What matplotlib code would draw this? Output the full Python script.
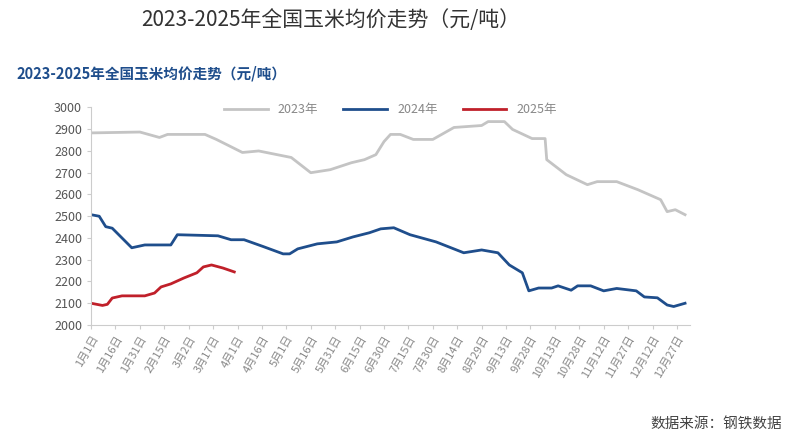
import matplotlib
matplotlib.use("Agg")
import matplotlib.pyplot as plt

plt.rcParams['font.family'] = ['Noto Sans CJK SC', 'DejaVu Sans']

d2023 = [0, 30, 42, 47, 70, 77, 93, 103, 123, 135, 147, 160, 168, 175, 180, 184, 190, 198, 210, 223, 240, 244, 254, 259, 271, 279, 280, 292, 305, 311, 323, 336, 350, 354, 359, 365]
v2023 = [2883, 2887, 2862, 2876, 2876, 2853, 2793, 2800, 2770, 2700, 2714, 2746, 2760, 2783, 2843, 2876, 2876, 2853, 2853, 2908, 2917, 2935, 2935, 2899, 2857, 2857, 2760, 2691, 2645, 2659, 2659, 2622, 2576, 2521, 2530, 2507]
d2024 = [0, 5, 9, 13, 19, 25, 33, 49, 53, 78, 86, 94, 106, 118, 122, 127, 139, 151, 161, 171, 178, 186, 196, 212, 229, 240, 250, 257, 265, 269, 275, 283, 287, 295, 299, 307, 315, 323, 335, 340, 348, 354, 358, 365]
v2024 = [2507, 2500, 2452, 2445, 2400, 2355, 2368, 2368, 2415, 2410, 2392, 2392, 2360, 2327, 2327, 2350, 2373, 2382, 2405, 2424, 2442, 2447, 2415, 2382, 2332, 2345, 2332, 2276, 2240, 2157, 2170, 2170, 2180, 2160, 2180, 2180, 2157, 2168, 2157, 2129, 2125, 2092, 2085, 2100]
d2025 = [0, 7, 10, 13, 19, 33, 39, 43, 49, 57, 65, 69, 74, 81, 88]
v2025 = [2100, 2090, 2095, 2124, 2134, 2134, 2147, 2175, 2189, 2216, 2240, 2267, 2276, 2262, 2244]
tick_days = list(range(0, 361, 15))
tick_labels = ["1月1日", "1月16日", "1月31日", "2月15日", "3月2日", "3月17日", "4月1日", "4月16日", "5月1日",
               "5月16日", "5月31日", "6月15日", "6月30日", "7月15日", "7月30日", "8月14日", "8月29日", "9月13日",
               "9月28日", "10月13日", "10月28日", "11月12日", "11月27日", "12月12日", "12月27日"]

fig = plt.figure(figsize=(8.06, 4.44), dpi=100)
ax = fig.add_axes([0.113, 0.268, 0.743, 0.49])
ax.plot(d2023, v2023, color='#c4c4c4', lw=2, label='2023年')
ax.plot(d2024, v2024, color='#1f4e8c', lw=2, label='2024年')
ax.plot(d2025, v2025, color='#c0202a', lw=2, label='2025年')
ax.set_xlim(0, 368)
ax.set_ylim(2000, 3000)
ax.set_yticks(range(2000, 3001, 100))
ax.set_xticks(tick_days)
ax.set_xticklabels(tick_labels, rotation=60, ha='right', rotation_mode='anchor', fontsize=8, color='#888888')
ax.tick_params(axis='y', labelsize=9, labelcolor='#555555', color='#cccccc', length=3)
ax.tick_params(axis='x', color='#cccccc', length=3)
for s in ['top', 'right']:
    ax.spines[s].set_visible(False)
for s in ['left', 'bottom']:
    ax.spines[s].set_color('#cccccc')
ax.legend(loc='upper center', bbox_to_anchor=(0.5, 1.07), ncol=3, frameon=False, fontsize=9,
          handlelength=3.5, labelcolor='#888888')

fig.text(0.41, 0.955, "2023-2025年全国玉米均价走势（元/吨）", ha='center', va='center', fontsize=15,
         color='#333333', fontweight='light')
fig.text(0.02, 0.835, "2023-2025年全国玉米均价走势（元/吨）", ha='left', va='center', fontsize=10.5,
         color='#1f4e8c', fontweight='bold')
fig.text(0.97, 0.03, "数据来源：钢铁数据", ha='right', va='bottom', fontsize=10.5, color='#444444', style='italic')
fig.savefig("out.png", dpi=100)
